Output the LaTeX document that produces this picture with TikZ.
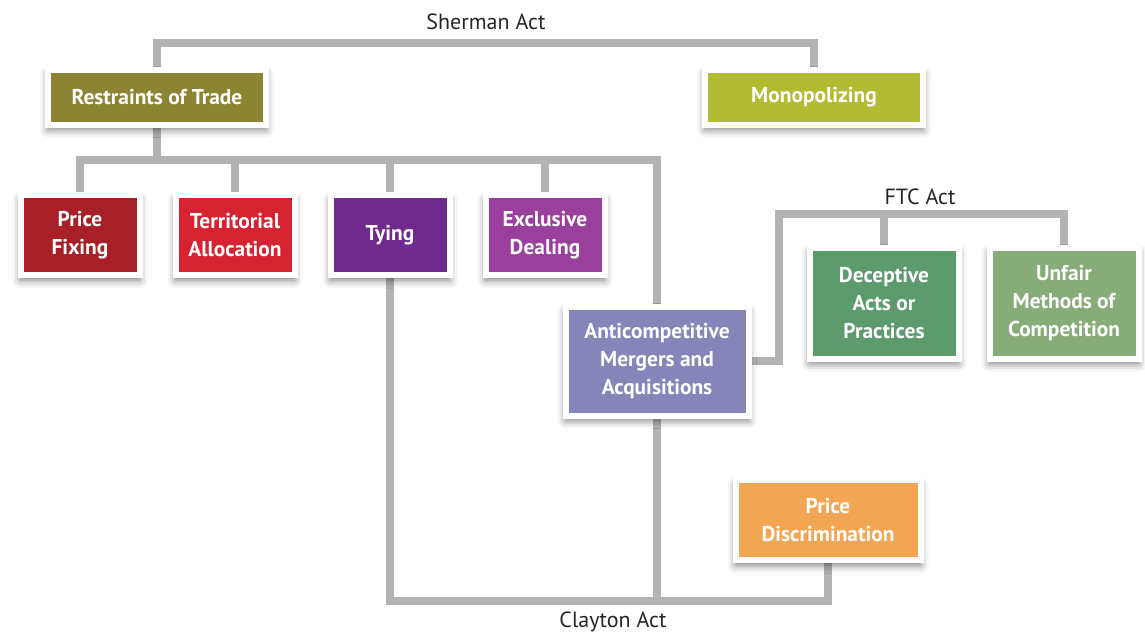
\documentclass[tikz,border=0pt]{standalone}
\usepackage{fontspec}
\setmainfont{PT Sans}
\usepackage{tikz}
\usetikzlibrary{positioning,backgrounds,shadows.blur}
\usepackage{xcolor}

\definecolor{linkgray}{HTML}{B3B3B4}
\definecolor{restraintcol}{HTML}{8D8433}
\definecolor{monopolycol}{HTML}{B2BC32}
\definecolor{pricefixcol}{HTML}{A81F27}
\definecolor{territorialcol}{HTML}{D52331}
\definecolor{tyingcol}{HTML}{6F2A8D}
\definecolor{exclusivecol}{HTML}{9B3F9E}
\definecolor{mergercol}{HTML}{8685BA}
\definecolor{deceptivecol}{HTML}{5C9C6C}
\definecolor{unfaircol}{HTML}{86AD78}
\definecolor{pricediscol}{HTML}{F2A553}

\begin{document}
\begin{tikzpicture}[
  x=0.5pt, y=-0.5pt,
  node distance=15pt,
  every node/.style={align=center},
  act/.style={font=\fontsize{11}{13}\selectfont, text=black!85},
  box/.style={draw=white, line width=3pt, text=white, inner sep=2pt,
              font=\bfseries\fontsize{10.7}{14}\selectfont,
              blur shadow={shadow xshift=0pt, shadow yshift=-2.5pt,
                           shadow blur radius=4pt, shadow opacity=55}},
  topbox/.style={box, minimum width=109pt, minimum height=27.5pt},
  rowbox/.style={box, minimum width=59.5pt, minimum height=40pt},
  ftcbox/.style={box, minimum width=74.5pt, minimum height=55.5pt},
  link/.style={draw=linkgray, line width=3.8pt}
]
  \useasboundingbox (0,0) rectangle (1145,632);

  \node[act] (sherman) at (486,22)  {Sherman Act};
  \node[act] (ftc)     at (920,197) {FTC Act};
  \node[act] (clayton) at (613,622) {Clayton Act};

  \node[topbox, fill=restraintcol] (restraint) at (157,97) {Restraints of Trade};
  \node[topbox, fill=monopolycol]  (monopoly)  at (814,97) {Monopolizing};

  \node[rowbox, fill=pricefixcol] (pricefix) at (80,235) {Price\\Fixing};
  \node[rowbox, fill=territorialcol, right=of pricefix]    (territorial) {Territorial\\Allocation};
  \node[rowbox, fill=tyingcol, right=of territorial]        (tying)       {Tying};
  \node[rowbox, fill=exclusivecol, right=of tying]          (exclusive)   {Exclusive\\Dealing};

  \node[box, fill=mergercol, minimum width=91.5pt, minimum height=54.5pt]
       (merger) at (657,361) {Anticompetitive\\Mergers and\\Acquisitions};

  \node[ftcbox, fill=deceptivecol] (deceptive) at (884,303) {Deceptive\\Acts or\\Practices};
  \node[ftcbox, fill=unfaircol, right=12.5pt of deceptive] (unfair) {Unfair\\Methods of\\Competition};

  \node[box, fill=pricediscol, minimum width=92.5pt, minimum height=40pt]
       (pricedisc) at (828,520) {Price\\Discrimination};

  \begin{scope}[on background layer]
    \coordinate (shermanbar) at (486,43);
    \coordinate (rowbar)     at (400,160);
    \coordinate (ftccorner)  at (779,214);
    \coordinate (claytonbar) at (613,601);

    \draw[link] (restraint.north) |- (shermanbar) -| (monopoly.north);

    \draw[link] (restraint.south) -- (restraint.south |- rowbar);
    \draw[link] (pricefix.north) |- (rowbar) -| (merger.north);
    \foreach \n in {territorial,tying,exclusive}
      \draw[link] (\n.north) -- (\n.north |- rowbar);

    \draw[link] (merger.east) -| (ftccorner) -| (unfair.north);
    \draw[link] (deceptive.north) -- (deceptive.north |- ftccorner);

    \draw[link] (tying.south) |- (claytonbar) -| (pricedisc.south);
    \draw[link] (merger.south) -- (merger.south |- claytonbar);
  \end{scope}
\end{tikzpicture}
\end{document}
